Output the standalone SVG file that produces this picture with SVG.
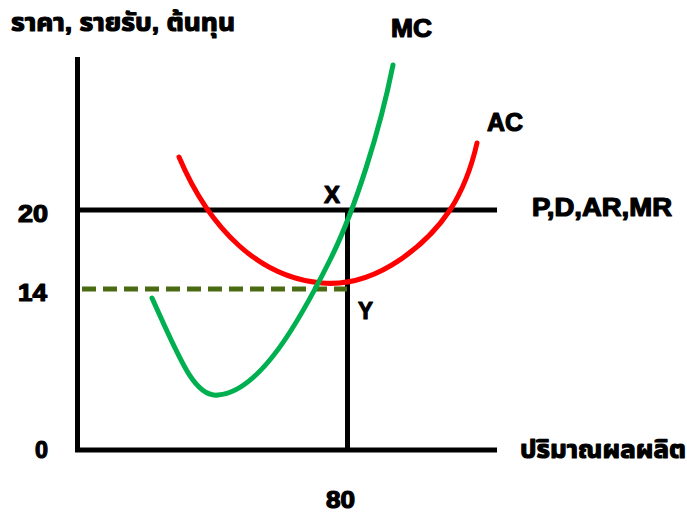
<svg xmlns="http://www.w3.org/2000/svg" width="687" height="513" viewBox="0 0 687 513">
<style>
.t{font-family:"Liberation Sans","Noto Sans Thai","Noto Sans","DejaVu Sans",sans-serif;font-weight:bold;fill:#000;stroke:#000;stroke-width:1.2;stroke-linejoin:round}
.ax{stroke:#000;stroke-width:5;fill:none}
</style>
<rect width="687" height="513" fill="#fff"/>
<g id="connectors">
<path class="ax" d="M77.5,57 V450 H497"/>
<path class="ax" d="M77.5,210 H497"/>
<path class="ax" d="M347.5,210 V450"/>
<path d="M82,289 H347" stroke="#4a6b12" stroke-width="5" stroke-dasharray="14,7" fill="none"/>
</g>
<g id="ac">
<path d="M179,157 C210,230 260,278 322,283 C380,288 430,240 450,210 C463,190 472,165 477,143" stroke="#ff0000" stroke-width="5" fill="none" stroke-linecap="round"/>
<text class="t" x="487" y="131" font-size="25" textLength="36" lengthAdjust="spacingAndGlyphs">AC</text>
</g>
<g id="mc">
<path d="M152,298 C180,360 195,398 218,395 C260,392 300,320 330,260 C355,210 380,130 393,65" stroke="#00b050" stroke-width="5" fill="none" stroke-linecap="round"/>
<text class="t" x="391" y="37" font-size="25" textLength="41" lengthAdjust="spacingAndGlyphs">MC</text>
</g>
<g id="labels">
<text class="t" x="11" y="31" font-size="24" textLength="224" lengthAdjust="spacingAndGlyphs">ราคา, รายรับ, ต้นทุน</text>
<text class="t" x="324" y="203" font-size="24" textLength="16" lengthAdjust="spacingAndGlyphs">X</text>
<text class="t" x="358" y="319" font-size="24" textLength="15" lengthAdjust="spacingAndGlyphs">Y</text>
<text class="t" x="532" y="216" font-size="25" textLength="140" lengthAdjust="spacingAndGlyphs">P,D,AR,MR</text>
<text class="t" x="18" y="222" font-size="23" textLength="30" lengthAdjust="spacingAndGlyphs">20</text>
<text class="t" x="18" y="301" font-size="23" textLength="29" lengthAdjust="spacingAndGlyphs">14</text>
<text class="t" x="35" y="458" font-size="24" textLength="13" lengthAdjust="spacingAndGlyphs">0</text>
<text class="t" x="520" y="458" font-size="25" textLength="166" lengthAdjust="spacingAndGlyphs">ปริมาณผลผลิต</text>
<text class="t" x="326" y="508" font-size="23" textLength="29" lengthAdjust="spacingAndGlyphs">80</text>
</g>
</svg>
